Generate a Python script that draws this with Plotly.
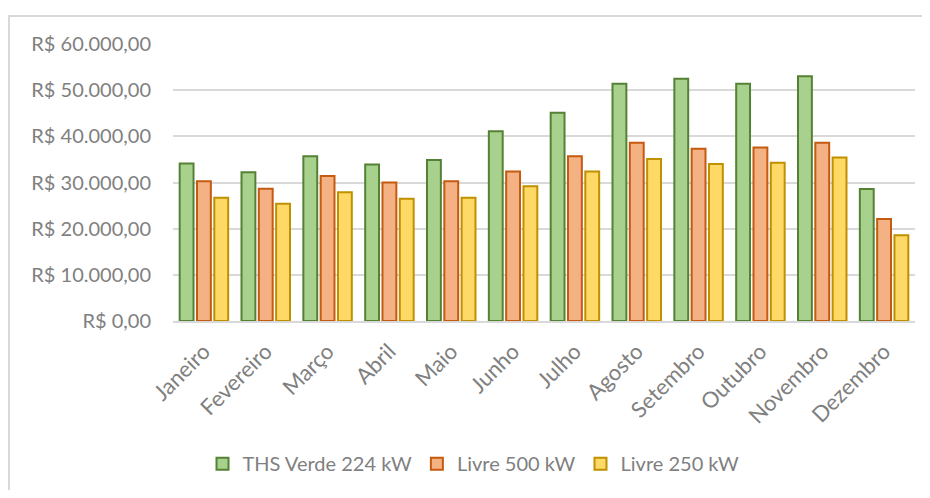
import plotly.graph_objects as go

# ---------------------------------------------------------------------------
# Data
# ---------------------------------------------------------------------------

months = ["Janeiro", "Fevereiro", "Março", "Abril", "Maio", "Junho",
          "Julho", "Agosto", "Setembro", "Outubro", "Novembro", "Dezembro"]

ths_verde_224 = [34100, 32200, 35700, 33900, 34900, 41100,
                 45100, 51400, 52500, 51400, 53000, 28600]
livre_500 = [30250, 28650, 31400, 30000, 30250, 32400,
             35700, 38600, 37300, 37600, 38600, 22100]
livre_250 = [26700, 25400, 27900, 26500, 26700, 29200,
             32400, 35100, 34000, 34300, 35400, 18600]

tick_vals = [0, 10000, 20000, 30000, 40000, 50000, 60000]
tick_text = ["R$ 0,00", "R$ 10.000,00", "R$ 20.000,00", "R$ 30.000,00",
             "R$ 40.000,00", "R$ 50.000,00", "R$ 60.000,00"]

SERIES = [
    ("THS Verde 224 kW", ths_verde_224, "#A9D18E", "#548235"),
    ("Livre 500 kW", livre_500, "#F4B183", "#C55A11"),
    ("Livre 250 kW", livre_250, "#FFD966", "#BF9000"),
]

FONT = "Lato, 'Open Sans', sans-serif"
TEXT_GREY = "#808080"
GRID = "#d9d9d9"

fig = go.Figure()
for name, values, fill, edge in SERIES:
    fig.add_trace(go.Bar(
        x=months, y=values, name=name,
        marker=dict(color=fill, line=dict(color=edge, width=2)),
    ))

# light frame around the whole chart area (page body adds an 8px offset)
fig.add_shape(type="rect", xref="paper", yref="paper",
              x0=-0.221, x1=1.05, y0=-0.7, y1=1.101,
              line=dict(color=GRID, width=2), layer="below")

fig.update_layout(
    width=914, height=482,
    paper_bgcolor="white", plot_bgcolor="white",
    margin=dict(l=165, r=7, t=36, b=169),
    barmode="group", bargap=0.16, bargroupgap=0.2,
    font=dict(family=FONT, color=TEXT_GREY, size=20),
    legend=dict(orientation="h", x=0.405, xanchor="center",
                y=-0.515, yanchor="middle",
                font=dict(size=20, color=TEXT_GREY),
                itemwidth=30),
    showlegend=True,
)
fig.update_yaxes(range=[0, 60000], tickvals=tick_vals, ticktext=tick_text,
                 showgrid=True, gridcolor=GRID, gridwidth=2,
                 zeroline=False, showline=False, ticks="", automargin=False,
                 tickfont=dict(size=20, color=TEXT_GREY), ticklabelstandoff=21)
fig.update_xaxes(tickangle=-45, showline=True, linecolor=GRID, linewidth=2,
                 ticks="", automargin=False, ticklabelstandoff=7,
                 tickfont=dict(size=22, color=TEXT_GREY))

fig.write_html("out.html")
